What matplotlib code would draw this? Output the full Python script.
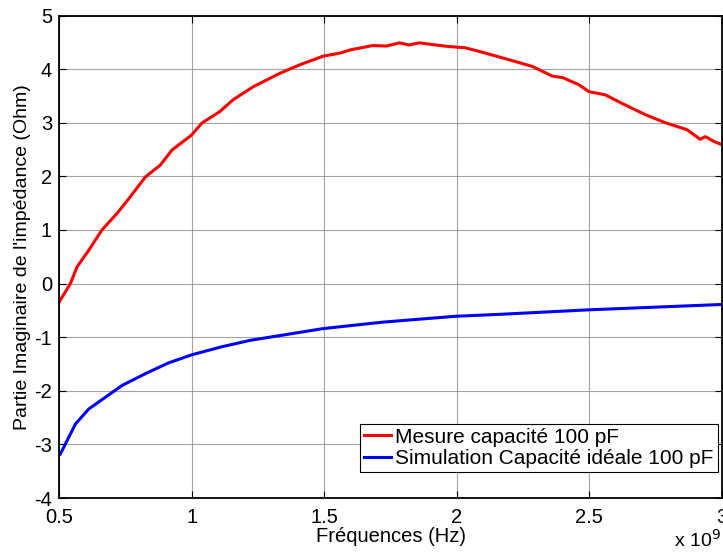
import matplotlib
matplotlib.use("Agg")
import matplotlib.pyplot as plt

plt.rcParams['font.family'] = ['Liberation Sans', 'DejaVu Sans']

# Measured reactance (red)
freq_mes = [0.50, 0.543, 0.568, 0.612, 0.662, 0.719, 0.769, 0.826, 0.882, 0.926,
            1.00, 1.038, 1.107, 1.157, 1.232, 1.332, 1.408, 1.495, 1.56, 1.60,
            1.683, 1.735, 1.784, 1.82, 1.859, 1.92, 1.972, 2.03, 2.085, 2.172,
            2.285, 2.36, 2.40, 2.46, 2.498, 2.56, 2.623, 2.711, 2.786, 2.868,
            2.918, 2.937, 2.97, 3.00]
x_mes = [-0.35, 0.0, 0.31, 0.62, 1.0, 1.31, 1.62, 1.99, 2.21, 2.49,
         2.77, 2.99, 3.21, 3.43, 3.67, 3.92, 4.08, 4.24, 4.30, 4.36,
         4.44, 4.43, 4.49, 4.45, 4.49, 4.45, 4.42, 4.40, 4.33, 4.21,
         4.05, 3.87, 3.84, 3.71, 3.58, 3.52, 3.36, 3.15, 3.00, 2.87,
         2.69, 2.74, 2.65, 2.59]

# Ideal capacitor simulation (blue)
freq_sim = [0.505, 0.562, 0.612, 0.675, 0.738, 0.826, 0.913, 1.00, 1.113, 1.22,
            1.496, 1.72, 1.996, 2.158, 2.498, 2.75, 3.00]
x_sim = [-3.18, -2.62, -2.34, -2.12, -1.90, -1.68, -1.48, -1.33, -1.18, -1.06,
         -0.84, -0.72, -0.61, -0.575, -0.49, -0.44, -0.39]

xticks = [0.5, 1, 1.5, 2, 2.5, 3]
xticklabels = ['0.5', '1', '1.5', '2', '2.5', '3']
yticks = [-4, -3, -2, -1, 0, 1, 2, 3, 4, 5]
yticklabels = ['-4', '-3', '-2', '-1', '0', '1', '2', '3', '4', '5']

fig = plt.figure(figsize=(7.23, 5.52), dpi=100)
ax = fig.add_axes([59/723, 1-498/552, (722-59)/723, (498-15.5)/552])

ax.plot(freq_mes, x_mes, color='#ff0000', lw=2.2, label='Mesure capacité 100 pF')
ax.plot(freq_sim, x_sim, color='#0000ff', lw=2.2, label='Simulation Capacité idéale 100 pF')

ax.set_xlim(0.5, 3)
ax.set_ylim(-4, 5)
ax.set_xticks(xticks)
ax.set_xticklabels(xticklabels)
ax.set_yticks(yticks)
ax.set_yticklabels(yticklabels)
ax.grid(True, color='#8c8c8c', lw=0.8, alpha=0.8)
for s in ax.spines.values():
    s.set_linewidth(1.3)
    s.set_color('black')
ax.tick_params(direction='in', top=True, right=True, length=5, width=0.8,
               labelsize=14.5)
ax.tick_params(axis='x', pad=7)
ax.tick_params(axis='y', pad=5)

ax.set_xlabel('Fréquences (Hz)', fontsize=14.5, labelpad=0)
ax.set_ylabel("Partie Imaginaire de l'impédance (Ohm)", fontsize=14, labelpad=2)

fig.text(721/723, 1-547/552, r'x 10$^{9}$', fontsize=14, ha='right', va='baseline')

leg = ax.legend(loc='lower right', bbox_to_anchor=((718-59)/663, (498-472)/482.5),
                fontsize=15, fancybox=False, framealpha=1,
                edgecolor='black', handlelength=1.3, handletextpad=0.2,
                borderpad=0.2, labelspacing=0.1, borderaxespad=0.0)
leg.get_frame().set_linewidth(0.8)

fig.savefig('out.png', dpi=100)
